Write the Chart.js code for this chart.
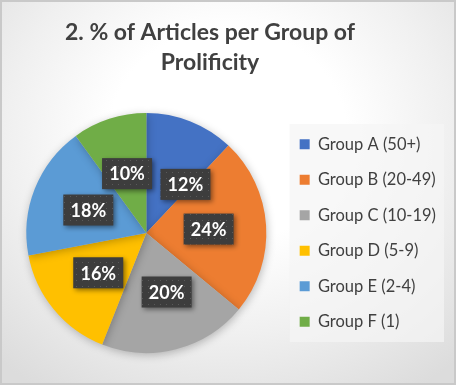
<!DOCTYPE html>
<html>
<head>
<meta charset="utf-8">
<title>% of Articles per Group of Prolificity</title>
<script src="https://cdn.jsdelivr.net/npm/chart.js@4.4.1/dist/chart.umd.min.js"></script>
<style>
  html, body { margin: 0; padding: 0; background: #fff; }
  #wrap {
    position: relative;
    width: 456px;
    height: 385px;
    box-sizing: border-box;
    border: 2px solid #c9c9c9;
    background: radial-gradient(ellipse 75% 80% at 50% 35%, #ffffff 35%, #f0f0f0 65%, #dcdcdc 100%);
  }
  canvas { display: block; }
</style>
</head>
<body>
<div id="wrap"><canvas id="pieChart" width="452" height="381"></canvas></div>
<script>
// Chart data
const titleLines = ["2. % of Articles per Group of", "Prolificity"];
const groups = ["Group A (50+)", "Group B (20-49)", "Group C (10-19)", "Group D (5-9)", "Group E (2-4)", "Group F (1)"];
const shares = [12, 24, 20, 16, 18, 10];
const sliceColors = ["#4472C4", "#ED7D31", "#A5A5A5", "#FFC000", "#5B9BD5", "#70AD47"];

/**
 * Dark dotted fill used for the data label boxes
 */
function makeLabelPattern(ctx) {
  const tile = document.createElement("canvas");
  tile.width = 6;
  tile.height = 6;
  const t = tile.getContext("2d");
  t.fillStyle = "#3d3d3d";
  t.fillRect(0, 0, 6, 6);
  t.fillStyle = "#5a5a5a";
  t.fillRect(2, 2, 1, 1);
  return ctx.createPattern(tile, "repeat");
}

// Title drawn over the pie area (Excel centres it over the plot, not the canvas)
const titlePlugin = {
  id: "excelTitle",
  afterDraw(chart) {
    const ctx = chart.ctx;
    ctx.save();
    ctx.fillStyle = "#404040";
    ctx.font = "bold 23px Lato, 'Open Sans', sans-serif";
    ctx.textAlign = "center";
    ctx.textBaseline = "middle";
    ctx.fillText(titleLines[0], 208, 31);
    ctx.fillText(titleLines[1], 208, 61);
    ctx.restore();
  },
};

// Light panel behind the legend items
const legendPanel = {
  id: "legendPanel",
  beforeDraw(chart) {
    const boxes = chart.legend && chart.legend.legendHitBoxes;
    if (!boxes || !boxes.length) return;
    const left = Math.min(...boxes.map((b) => b.left)) - 10;
    const top = Math.min(...boxes.map((b) => b.top)) - 12;
    const right = Math.max(...boxes.map((b) => b.left + b.width)) + 8;
    const bottom = Math.max(...boxes.map((b) => b.top + b.height)) + 12;
    const ctx = chart.ctx;
    ctx.save();
    ctx.fillStyle = "rgba(245, 245, 245, 0.7)";
    ctx.fillRect(left, top, right - left, bottom - top);
    ctx.restore();
  },
};

// Soft shadow under the pie
const pieShadow = {
  id: "pieShadow",
  beforeDatasetsDraw(chart) {
    const ctx = chart.ctx;
    ctx.save();
    ctx.shadowColor = "rgba(0, 0, 0, 0.25)";
    ctx.shadowBlur = 8;
    ctx.shadowOffsetX = 1;
    ctx.shadowOffsetY = 2;
  },
  afterDatasetsDraw(chart) {
    chart.ctx.restore();
  },
};

// Percent labels in dark boxes
const boxLabels = {
  id: "boxLabels",
  afterDatasetsDraw(chart, args, opts) {
    const ctx = chart.ctx;
    const meta = chart.getDatasetMeta(0);
    const pattern = makeLabelPattern(ctx);
    const total = shares.reduce((a, b) => a + b, 0);
    ctx.save();
    ctx.font = "bold 18px Lato, 'Open Sans', sans-serif";
    ctx.textAlign = "center";
    ctx.textBaseline = "middle";
    meta.data.forEach((arc, i) => {
      const p = arc.getProps(["x", "y", "startAngle", "endAngle", "outerRadius"], true);
      const mid = (p.startAngle + p.endAngle) / 2;
      const shift = (opts.angleShift && opts.angleShift[i]) || 0;
      const a = mid + shift;
      const r = p.outerRadius * opts.radiusFraction;
      const cx = p.x + Math.cos(a) * r;
      const cy = p.y + Math.sin(a) * r;
      const text = Math.round((shares[i] / total) * 100) + "%";
      const w = 50;
      const h = 31;
      ctx.shadowColor = "rgba(0, 0, 0, 0.45)";
      ctx.shadowBlur = 5;
      ctx.shadowOffsetX = 2;
      ctx.shadowOffsetY = 2;
      ctx.fillStyle = pattern;
      ctx.fillRect(cx - w / 2, cy - h / 2, w, h);
      ctx.shadowColor = "transparent";
      ctx.fillStyle = "#ffffff";
      ctx.fillText(text, cx, cy + 1);
    });
    ctx.restore();
  },
};

const ctx = document.getElementById("pieChart");

new Chart(ctx, {
  type: "pie",
  data: {
    labels: groups,
    datasets: [
      {
        data: shares,
        backgroundColor: sliceColors,
        borderWidth: 0,
      },
    ],
  },
  options: {
    responsive: false,
    animation: false,
    layout: {
      padding: { top: 111, bottom: 30, left: 10, right: 8 },
    },
    plugins: {
      legend: {
        position: "right",
        labels: {
          boxWidth: 10,
          boxHeight: 10,
          padding: 19,
          color: "#404040",
          font: { size: 16.5, family: "Lato, 'Open Sans', sans-serif" },
        },
      },
      tooltip: { enabled: false },
      boxLabels: {
        radiusFraction: 0.52,
        angleShift: [0.3, 0, -0.08, 0, 0, 0],
      },
    },
  },
  plugins: [pieShadow, legendPanel, boxLabels, titlePlugin],
});
</script>
</body>
</html>
